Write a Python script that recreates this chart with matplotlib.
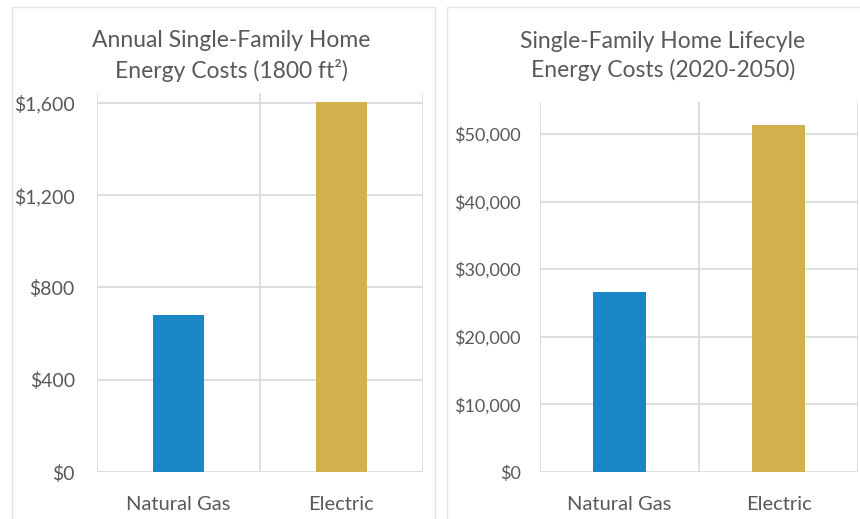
import matplotlib.pyplot as plt
from matplotlib.patches import Rectangle
from matplotlib.ticker import FuncFormatter

plt.rcParams["font.family"] = ["Lato", "DejaVu Sans"]

categories = ["Natural Gas", "Electric"]
annual_costs = [680, 1605]
lifecycle_costs = [26600, 51400]
annual_ticks = [0, 400, 800, 1200, 1600]
lifecycle_ticks = [0, 10000, 20000, 30000, 40000, 50000]
bar_colors = ["#1A86C8", "#D2B04C"]

TEXT = "#595959"
GRID = "#D9D9D9"


def style_axes(ax, ticks, top, bar_width, values, ysize, ypad):
    x = range(len(categories))
    ax.bar(x, values, width=bar_width, color=bar_colors, zorder=3)
    ax.set_xlim(-0.5, len(categories) - 0.5)
    ax.set_ylim(0, top)
    ax.set_yticks(ticks)
    ax.yaxis.set_major_formatter(FuncFormatter(lambda v, p: "${:,.0f}".format(v)))
    ax.set_xticks(list(x))
    ax.set_xticklabels(categories)
    ax.tick_params(axis="both", length=0, colors=TEXT)
    ax.tick_params(axis="y", pad=ypad, labelsize=ysize)
    ax.tick_params(axis="x", pad=17, labelsize=14.5)
    for s in ax.spines.values():
        s.set_visible(False)
    # horizontal gridlines at ticks, vertical lines at category edges
    for t in ticks:
        ax.axhline(t, color=GRID, lw=1.2, zorder=1)
    for xv in [-0.5, 0.5, 1.5]:
        ax.axvline(xv, color=GRID, lw=1.2, zorder=1)


fig = plt.figure(figsize=(8.6, 5.19), dpi=100)
W, H = 860, 519

# panel borders
fig.patches.append(Rectangle((12 / W, -0.05), 423 / W, (519 - 7) / H + 0.05,
                             transform=fig.transFigure, fill=False,
                             edgecolor="#E3E3E3", lw=1))
fig.patches.append(Rectangle((447 / W, -0.05), 420 / W, (519 - 7) / H + 0.05,
                             transform=fig.transFigure, fill=False,
                             edgecolor="#E3E3E3", lw=1))

# left chart
ax1 = fig.add_axes([97 / W, 1 - 472 / H, (423 - 97) / W, (472 - 93) / H])
style_axes(ax1, annual_ticks, 1643, 0.315, annual_costs, 14, 16)
fig.text(231 / W, 1 - 56 / H, "Annual Single-Family Home\nEnergy Costs (1800 ft²)",
         ha="center", va="center", fontsize=16.5, color=TEXT, linespacing=1.4)

# right chart
ax2 = fig.add_axes([540 / W, 1 - 472 / H, (858 - 540) / W, (472 - 102) / H])
style_axes(ax2, lifecycle_ticks, 54730, 0.33, lifecycle_costs, 13, 14)
fig.text(663 / W, 1 - 56 / H, "Single-Family Home Lifecyle\nEnergy Costs (2020-2050)",
         ha="center", va="center", fontsize=16.5, color=TEXT, linespacing=1.4)

fig.savefig("out.png", dpi=100)
